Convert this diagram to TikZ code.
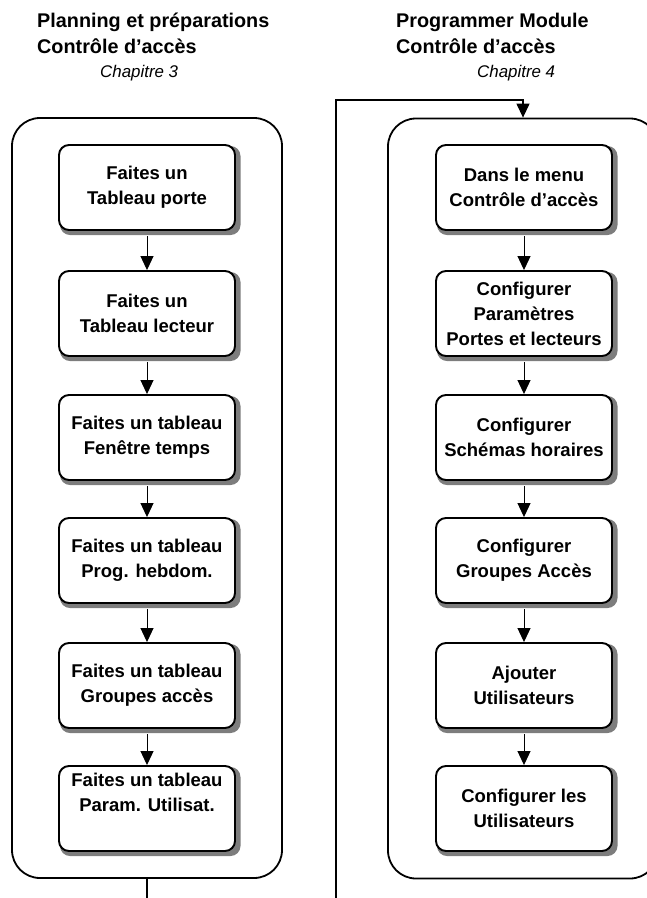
\documentclass[tikz,border=0pt]{standalone}
\usepackage{fontspec}
\setmainfont{Liberation Sans}
\usetikzlibrary{arrows.meta}
\definecolor{shadowgray}{RGB}{125,125,125}
\begin{document}
\begin{tikzpicture}[x=1pt,y=-1pt,
  stepbox/.style={draw=black, fill=white, line width=1.9pt, rounded corners=10pt,
    minimum width=176pt, minimum height=85pt, inner sep=0pt, align=center,
    font=\fontsize{18.5}{25}\selectfont\bfseries},
  shadowbox/.style={fill=shadowgray, rounded corners=10pt},
  outerbox/.style={draw=black, line width=1.8pt, rounded corners=28pt,
    minimum width=270pt, minimum height=760pt, inner sep=0pt},
  titletext/.style={anchor=base west, inner sep=0pt, font=\fontsize{19.8}{24}\selectfont\bfseries},
  chaptext/.style={anchor=base west, inner sep=0pt, font=\fontsize{16.9}{20}\selectfont\itshape},
  link/.style={line width=1pt, -{Triangle[width=13pt,length=14pt]}},
  plain/.style={line width=1.2pt}
]
\useasboundingbox (0,0) rectangle (647,898);

% titles
\node[titletext] (tl1) at (37,27) {Planning et préparations};
\node[titletext] (tl2) at (37,53) {Contrôle d’accès};
\node[chaptext] (tl3) at (100,77) {Chapitre 3};
\node[titletext] (tr1) at (396,27) {Programmer Module};
\node[titletext] (tr2) at (396,53) {Contrôle d’accès};
\node[chaptext] (tr3) at (477,77) {Chapitre 4};

% outer containers
\begin{scope}
\clip (0,0) rectangle (647,898);
\node[outerbox] (L) at (147,498) {};
\node[outerbox] (R) at (523,498.5) {};
\end{scope}

% drop shadows
\foreach \x in {147,524}
  \foreach \y in {187.5,313.5,437.5,560.5,685.5,808.5}
    \fill[shadowbox] (\x-88+1,\y-42.5+1) rectangle (\x+88+5.5,\y+42.5+5);

% left column
\node[stepbox] (a1) at (147,187.5) {Faites un\\Tableau porte};
\node[stepbox] (a2) at (147,313.5) {Faites un\\Tableau lecteur};
\node[stepbox] (a3) at (147,437.5) {Faites un tableau\\Fenêtre temps};
\node[stepbox] (a4) at (147,560.5) {Faites un tableau\\Prog. hebdom.};
\node[stepbox] (a5) at (147,685.5) {Faites un tableau\\Groupes accès};
\node[stepbox] (a6) at (147,808.5) {Faites un tableau\\Param. Utilisat.\\\strut};

% right column
\node[stepbox] (b1) at (524,187.5) {Dans le menu\\Contrôle d’accès};
\node[stepbox] (b2) at (524,313.5) {Configurer\\Paramètres\\Portes et lecteurs};
\node[stepbox] (b3) at (524,437.5) {Configurer\\Schémas horaires};
\node[stepbox] (b4) at (524,560.5) {Configurer\\Groupes Accès};
\node[stepbox] (b5) at (524,685.5) {Ajouter\\Utilisateurs};
\node[stepbox] (b6) at (524,808.5) {Configurer les\\Utilisateurs};

% arrows inside
\foreach \p/\n in {a1/a2,a2/a3,a3/a4,a4/a5,a5/a6,b1/b2,b2/b3,b3/b4,b4/b5,b5/b6}
  \draw[link] ([yshift=-5.5pt]\p.south) -- (\n.north);

% outer connectors
\coordinate (lend) at (147,898);
\draw[plain] (L.south) -- (lend);
\coordinate (rstart) at (336,898);
\coordinate (rturn) at (336,100);
\draw[link, line width=1.2pt] (rstart) -- (rturn) -| (R.north);
\end{tikzpicture}
\end{document}
